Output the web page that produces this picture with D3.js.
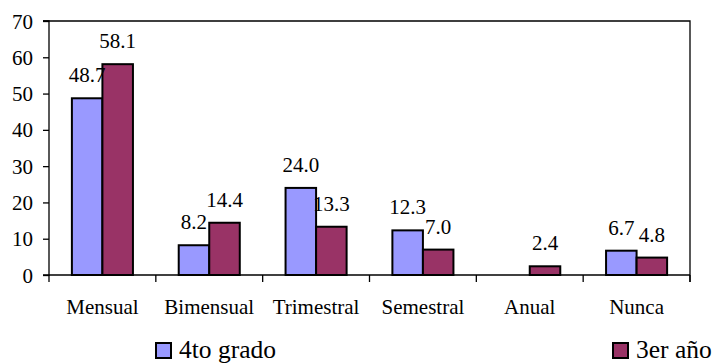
<!DOCTYPE html>
<html>
<head>
<meta charset="utf-8">
<script src="https://cdn.jsdelivr.net/npm/d3@7"></script>
<style>
  html, body { margin: 0; padding: 0; background: #fff; }
</style>
</head>
<body>
<svg id="chart" width="718" height="364"></svg>
<script>
// Frequency categories and the two groups being compared
const categories = ["Mensual", "Bimensual", "Trimestral", "Semestral", "Anual", "Nunca"];
const seriesNames = ["4to grado", "3er año"];
const cuarto = [48.7, 8.2, 24.0, 12.3, null, 6.7];
const tercero = [58.1, 14.4, 13.3, 7.0, 2.4, 4.8];
const yTicks = [0, 10, 20, 30, 40, 50, 60, 70];
const colors = ["#9999ff", "#993366"];

const FONT = "'Liberation Serif', 'Times New Roman', 'DejaVu Serif', serif";

const svg = d3.select("#chart");
const m = { left: 49, right: 690, top: 21, bottom: 275 };

const x = d3.scaleBand().domain(categories).range([m.left, m.right]).paddingInner(0).paddingOuter(0);
const inner = d3.scaleBand().domain(seriesNames).range([0, x.bandwidth()]).paddingInner(0).paddingOuter(0.75);
const y = d3.scaleLinear().domain([0, 70]).range([m.bottom, m.top]);

// Plot frame: top and right edges
svg.append("path")
  .attr("d", `M${m.left - 6},${m.top}H${m.right}V${m.bottom + 7}`)
  .attr("fill", "none").attr("stroke", "#000").attr("stroke-width", 1.3);

// Y axis
const yAxis = svg.append("g").attr("transform", `translate(${m.left},0)`)
  .call(d3.axisLeft(y).tickValues(yTicks).tickSize(6).tickPadding(10).tickFormat(d3.format("d")));
yAxis.attr("font-family", null).attr("font-size", null);
yAxis.select(".domain").attr("stroke", "#000").attr("stroke-width", 1.3).attr("d", `M-6,${m.top}H0V${m.bottom}H-6`);
yAxis.selectAll(".tick line").attr("stroke", "#000").attr("stroke-width", 1.3);
yAxis.selectAll("text").style("font-family", FONT).style("font-size", "21px").attr("dy", "0.34em").attr("fill", "#000");

// X axis with tick marks between categories
const xAxis = svg.append("g").attr("transform", `translate(0,${m.bottom})`);
xAxis.append("line").attr("x1", m.left).attr("x2", m.right).attr("stroke", "#000").attr("stroke-width", 1.3);
const boundaries = categories.map(c => x(c)).concat([m.right]);
xAxis.selectAll("line.tk").data(boundaries).enter().append("line").attr("class", "tk")
  .attr("x1", d => d).attr("x2", d => d).attr("y1", 0).attr("y2", 7)
  .attr("stroke", "#000").attr("stroke-width", 1.3);
xAxis.selectAll("text").data(categories).enter().append("text")
  .attr("x", d => x(d) + x.bandwidth() / 2).attr("y", 39)
  .attr("text-anchor", "middle").style("font-family", FONT).style("font-size", "21px").text(d => d);

// Bars
const rows = [];
categories.forEach((c, i) => {
  [cuarto, tercero].forEach((arr, s) => {
    if (arr[i] != null) rows.push({ cat: c, s, v: arr[i] });
  });
});

svg.append("g").selectAll("rect").data(rows).enter().append("rect")
  .attr("x", d => x(d.cat) + inner(seriesNames[d.s]))
  .attr("width", inner.bandwidth())
  .attr("y", d => y(d.v))
  .attr("height", d => y(0) - y(d.v))
  .attr("fill", d => colors[d.s])
  .attr("stroke", "#000").attr("stroke-width", 2);

// Value labels
svg.append("g").selectAll("text").data(rows).enter().append("text")
  .attr("x", d => x(d.cat) + inner(seriesNames[d.s]) + inner.bandwidth() / 2)
  .attr("y", d => y(d.v) - 16)
  .attr("text-anchor", "middle").style("font-family", FONT).style("font-size", "21px")
  .text(d => d3.format(".1f")(d.v));

// Legend
const legendPos = [156, 613];
const lg = svg.append("g").selectAll("g").data(seriesNames).enter().append("g")
  .attr("transform", (d, i) => `translate(${legendPos[i]},343)`);
lg.append("rect").attr("width", 15).attr("height", 15)
  .attr("fill", (d, i) => colors[i]).attr("stroke", "#000").attr("stroke-width", 2);
lg.append("text").attr("x", 23).attr("y", 15).style("font-family", FONT).style("font-size", "25.5px").text(d => d);
</script>
</body>
</html>
